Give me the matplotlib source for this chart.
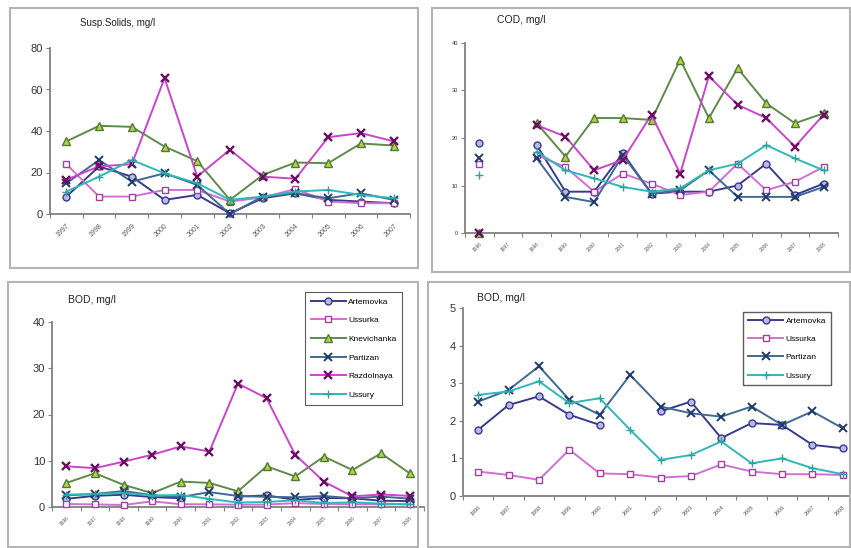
import numpy as np
import matplotlib
matplotlib.use("Agg")
import matplotlib.pyplot as plt
from matplotlib.patches import Rectangle

plt.rcParams['font.family'] = ['Liberation Sans', 'DejaVu Sans']

nan = np.nan

# ---------------- data ----------------
years_ss = ["1997", "1998", "1999", "2000", "2001", "2002", "2003", "2004", "2005", "2006", "2007"]
years_13 = ["1996", "1997", "1998", "1999", "2000", "2001", "2002", "2003", "2004", "2005", "2006", "2007", "2008"]

rivers = ["Artemovka", "Ussurka", "Knevichanka", "Partizan", "Razdolnaya", "Ussury"]

# Suspended solids, mg/l
ss_artemovka   = [8.4, 22.9, 18, 6.8, 9.2, 0.3, 7.6, 10, 6.8, 6, 5.2]
ss_ussurka     = [24, 8.4, 8.4, 11.6, 11.6, 6, 8, 12, 6, 5.2, 5.2]
ss_knevichanka = [35, 42.5, 42, 32.5, 25.5, 6.8, 18.8, 24.8, 24.5, 34, 33]
ss_partizan    = [14.8, 26, 15.6, 19.6, 14, 0, 8.4, 10, 7.6, 10, 6.8]
ss_razdolnaya  = [16.5, 23, 24, 65.5, 18, 31, 18, 17, 37, 39, 35]
ss_ussury      = [10.8, 18, 26, 19.6, 14.8, 6.8, 8.4, 10.8, 11.6, 9.2, 7.6]

# COD, mg/l
cod_artemovka   = [19, nan, 18.5, 8.7, 8.7, 16.8, 8.3, 8.7, 8.7, 10, 14.6, 8, 10.4]
cod_ussurka     = [14.6, nan, 16.4, 13.9, 8.7, 12.5, 10.4, 8, 8.7, 14.6, 9, 10.8, 13.9]
cod_knevichanka = [0, nan, 23.1, 16.1, 24.2, 24.2, 23.8, 36.5, 24.2, 34.7, 27.3, 23.1, 25.2]
cod_partizan    = [15.7, nan, 15.7, 7.6, 6.5, 16.4, 8.3, 9, 13.2, 7.6, 7.6, 7.6, 9.7]
cod_razdolnaya  = [0, nan, 22.7, 20.3, 13.2, 15.4, 24.9, 12.5, 33, 27, 24.2, 18.2, 24.9]
cod_ussury      = [12.2, nan, 17.1, 13.2, 11.5, 9.7, 8.7, 9.4, 13.2, 14.6, 18.5, 15.7, 13.2]

# BOD, mg/l
bod_artemovka   = [1.76, 2.42, 2.65, 2.16, 1.89, nan, 2.25, 2.51, 1.54, 1.94, 1.89, 1.36, 1.27]
bod_ussurka     = [0.65, 0.56, 0.43, 1.23, 0.6, 0.58, 0.49, 0.53, 0.84, 0.65, 0.58, 0.58, 0.56]
bod_knevichanka = [5.2, 7.3, 4.8, 3.0, 5.5, 5.2, 3.4, 8.8, 6.6, 10.9, 8.0, 11.6, 7.3]
bod_partizan    = [2.51, 2.82, 3.45, 2.56, 2.16, 3.22, 2.38, 2.2, 2.11, 2.38, 1.89, 2.25, 1.8]
bod_razdolnaya  = [8.8, 8.4, 9.8, 11.3, 13.1, 12.0, 26.7, 23.5, 11.3, 5.5, 2.3, 2.7, 2.4]
bod_ussury      = [2.69, 2.78, 3.05, 2.47, 2.6, 1.76, 0.96, 1.09, 1.45, 0.87, 1.0, 0.74, 0.58]

# ---------------- styles ----------------
styles = {
    "Artemovka":   dict(color="#3a3a8c", marker="o", mfc="#b8b8e8", mec="#3a3a8c", ms=5),
    "Ussurka":     dict(color="#d070d0", marker="s", mfc="white", mec="#a040a0", ms=5),
    "Knevichanka": dict(color="#5f8a4a", marker="^", mfc="#b8d040", mec="#4f7a3a", ms=5.5),
    "Partizan":    dict(color="#3f6a94", marker="x", mfc="#1f3a6a", mec="#1f3a6a", ms=5.5, mew=1.4),
    "Razdolnaya":  dict(color="#cc44cc", marker="x", mfc="#6a1060", mec="#6a1060", ms=5.5, mew=1.7),
    "Ussury":      dict(color="#30b8b8", marker="+", mfc="#30b8b8", mec="#30a0a0", ms=5.5, mew=1.0),
}

W, H = 851, 548
fig = plt.figure(figsize=(W / 100, H / 100), dpi=100)
fig.patch.set_facecolor("white")


def px_axes(l, r, t, b):
    return fig.add_axes([l / W, 1 - b / H, (r - l) / W, (b - t) / H])


def style_axes(ax, n, ylim, yticks, ylab_size):
    ax.set_xlim(-0.5, n - 0.5)
    ax.set_ylim(*ylim)
    for s in ["top", "right"]:
        ax.spines[s].set_visible(False)
    for s in ["left", "bottom"]:
        ax.spines[s].set_color("#808080")
        ax.spines[s].set_linewidth(1.3)
    ax.set_yticks(yticks)
    ax.tick_params(axis="y", direction="out", length=3, color="#808080",
                   labelsize=ylab_size, labelcolor="#333333", pad=2)
    ax.set_xticks(np.arange(n + 1) - 0.5)
    ax.set_xticklabels([])
    ax.tick_params(axis="x", which="major", direction="out", length=3, color="#808080")
    ax.set_facecolor("none")


def set_xlabels(ax, labels, size):
    ax.set_xticks(np.arange(len(labels)), minor=True)
    ax.set_xticklabels(labels, minor=True, rotation=45, ha="right",
                       rotation_mode="anchor", fontsize=size, color="#555555")
    ax.tick_params(axis="x", which="minor", length=0, pad=6)


def draw(ax, series, names):
    x = np.arange(len(series[0]))
    for vals, name in zip(series, names):
        st = styles[name]
        ax.plot(x, vals, color=st["color"], lw=1.4, marker=st["marker"],
                mfc=st["mfc"], mec=st["mec"], ms=st["ms"], mew=st.get("mew", 1.0),
                label=name, clip_on=False, zorder=3)


# Panel borders
for (l, t, r, b) in [(10, 8, 418, 268), (432, 8, 850, 272), (8, 282, 418, 547), (428, 282, 850, 547)]:
    fig.patches.append(Rectangle((l / W, 1 - b / H), (r - l) / W, (b - t) / H,
                                 transform=fig.transFigure, fill=False,
                                 edgecolor="#b4b4b4", lw=1.5))

# ---- Panel 1: Suspended solids
ax1 = px_axes(50, 410, 48, 214)
draw(ax1, [ss_artemovka, ss_ussurka, ss_knevichanka, ss_partizan, ss_razdolnaya, ss_ussury], rivers)
style_axes(ax1, len(years_ss), (0, 80), [0, 20, 40, 60, 80], 8)
set_xlabels(ax1, years_ss, 5)
fig.text(80 / W, 1 - 23 / H, "Susp.Solids, mg/l", fontsize=7, va="center", color="#222222")

# ---- Panel 2: COD
ax2 = px_axes(465, 838, 43, 233)
draw(ax2, [cod_artemovka, cod_ussurka, cod_knevichanka, cod_partizan, cod_razdolnaya, cod_ussury], rivers)
style_axes(ax2, len(years_13), (0, 40), [0, 10, 20, 30, 40], 4)
set_xlabels(ax2, years_13, 3.5)
fig.text(497 / W, 1 - 20 / H, "COD, mg/l", fontsize=7.5, va="center", color="#222222")

# ---- Panel 3: BOD (all rivers)
ax3 = px_axes(52, 424, 322, 507)
draw(ax3, [bod_artemovka, bod_ussurka, bod_knevichanka, bod_partizan, bod_razdolnaya, bod_ussury], rivers)
style_axes(ax3, len(years_13), (0, 40), [0, 10, 20, 30, 40], 8)
set_xlabels(ax3, years_13, 3.5)
fig.text(68 / W, 1 - 300 / H, "BOD, mg/l", fontsize=7.5, va="center", color="#222222")
leg3 = ax3.legend(loc="upper left", bbox_to_anchor=(305 / W, 1 - 292 / H),
                  bbox_transform=fig.transFigure, fontsize=6, frameon=True,
                  fancybox=False, edgecolor="#333333", handlelength=4.2,
                  labelspacing=1.3, borderpad=0.7, handletextpad=0.3,
                  borderaxespad=0)
leg3.get_frame().set_linewidth(0.8)

# ---- Panel 4: BOD (low-range rivers)
names4 = ["Artemovka", "Ussurka", "Partizan", "Ussury"]
ax4 = px_axes(463, 858, 308, 496)
draw(ax4, [bod_artemovka, bod_ussurka, bod_partizan, bod_ussury], names4)
style_axes(ax4, len(years_13), (0, 5), [0, 1, 2, 3, 4, 5], 8)
set_xlabels(ax4, years_13, 4)
fig.text(477 / W, 1 - 298 / H, "BOD, mg/l", fontsize=7.5, va="center", color="#222222")
leg4 = ax4.legend(loc="upper left", bbox_to_anchor=(743 / W, 1 - 312 / H),
                  bbox_transform=fig.transFigure, fontsize=6, frameon=True,
                  fancybox=False, edgecolor="#333333", handlelength=4.2,
                  labelspacing=1.25, borderpad=0.6, handletextpad=0.3,
                  borderaxespad=0)
leg4.get_frame().set_linewidth(1.0)

fig.savefig("out.png", dpi=100)
